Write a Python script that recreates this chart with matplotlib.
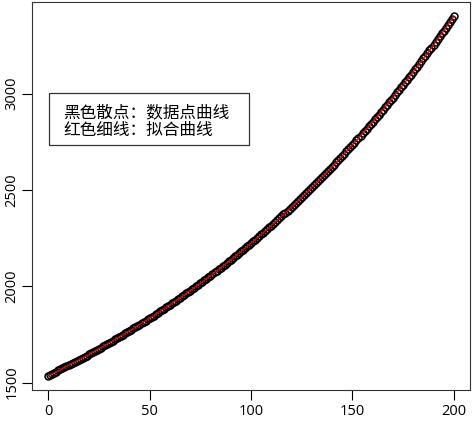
import numpy as np
import matplotlib
matplotlib.use("Agg")
import matplotlib.pyplot as plt
from matplotlib.patches import Rectangle

# ---- data ----
x_values = list(range(0, 201))
y_values = [
    1536.0, 1541.3, 1546.7, 1552.0, 1557.4, 1562.7, 1568.0, 1573.4, 1578.7, 1584.1,
    1589.4, 1595.0, 1600.7, 1606.3, 1612.0, 1617.6, 1623.2, 1628.9, 1634.5, 1640.2,
    1645.8, 1651.7, 1657.7, 1663.6, 1669.6, 1675.5, 1681.4, 1687.4, 1693.3, 1699.3,
    1705.2, 1711.5, 1717.8, 1724.0, 1730.3, 1736.6, 1742.9, 1749.2, 1755.4, 1761.7,
    1768.0, 1774.6, 1781.2, 1787.9, 1794.5, 1801.1, 1807.7, 1814.3, 1821.0, 1827.6,
    1834.2, 1841.2, 1848.2, 1855.1, 1862.1, 1869.1, 1876.1, 1883.1, 1890.0, 1897.0,
    1904.0, 1911.4, 1918.7, 1926.1, 1933.5, 1940.9, 1948.2, 1955.6, 1963.0, 1970.3,
    1977.7, 1985.5, 1993.3, 2001.0, 2008.8, 2016.6, 2024.4, 2032.2, 2039.9, 2047.7,
    2055.5, 2063.7, 2071.9, 2080.1, 2088.3, 2096.6, 2104.8, 2113.0, 2121.2, 2129.4,
    2137.6, 2146.3, 2154.9, 2163.6, 2172.2, 2180.9, 2189.5, 2198.2, 2206.8, 2215.5,
    2224.1, 2233.2, 2242.4, 2251.5, 2260.7, 2269.8, 2278.9, 2288.1, 2297.2, 2306.4,
    2315.5, 2325.1, 2334.8, 2344.4, 2354.1, 2363.7, 2373.3, 2383.0, 2392.6, 2402.3,
    2411.9, 2422.1, 2432.3, 2442.4, 2452.6, 2462.8, 2473.0, 2483.2, 2493.3, 2503.5,
    2513.7, 2524.4, 2535.2, 2545.9, 2556.6, 2567.4, 2578.1, 2588.8, 2599.5, 2610.3,
    2621.0, 2632.3, 2643.7, 2655.0, 2666.3, 2677.7, 2689.0, 2700.3, 2711.6, 2723.0,
    2734.3, 2746.3, 2758.2, 2770.2, 2782.1, 2794.1, 2806.0, 2818.0, 2829.9, 2841.9,
    2853.8, 2866.4, 2879.0, 2891.6, 2904.2, 2916.9, 2929.5, 2942.1, 2954.7, 2967.3,
    2979.9, 2993.2, 3006.5, 3019.8, 3033.1, 3046.4, 3059.7, 3073.0, 3086.3, 3099.6,
    3112.9, 3126.9, 3141.0, 3155.0, 3169.1, 3183.1, 3197.1, 3211.2, 3225.2, 3239.3,
    3253.3, 3268.1, 3282.9, 3297.8, 3312.6, 3327.4, 3342.2, 3357.0, 3371.9, 3386.7,
    3401.5,
]
x_ticks = [0, 50, 100, 150, 200]
y_ticks = [1500, 2000, 2500, 3000]
legend_lines = ["黑色散点：数据点曲线", "红色细线：拟合曲线"]

plt.rcParams['font.family'] = ['Open Sans', 'Noto Sans CJK SC', 'DejaVu Sans']

x = np.array(x_values, dtype=float)
y = np.array(y_values, dtype=float)

fig = plt.figure(figsize=(4.72, 4.21), dpi=100)
ax = fig.add_axes([32/472, 31/421, 438/472, 388/421])

ax.plot(x, y, linestyle='none', marker='o', markersize=5.0,
        markerfacecolor='none', markeredgecolor='black', markeredgewidth=1.1)

coef = np.polyfit(x, y, 3)
ax.plot(x, np.polyval(coef, x), color='#e00000', lw=1.0)

xr = x.max() - x.min()
yr = y.max() - y.min()
ax.set_xlim(x.min() - 0.04 * xr, x.max() + 0.04 * xr)
ax.set_ylim(y.min() - 0.04 * yr, y.max() + 0.04 * yr)

ax.set_xticks(x_ticks)
ax.set_yticks(y_ticks)
ax.tick_params(axis='both', direction='out', length=7, width=0.8, labelsize=10.5, colors='black')
ax.tick_params(axis='x', pad=3)
ax.tick_params(axis='y', pad=2)
for lab in ax.get_yticklabels():
    lab.set_rotation(90)
    lab.set_va('center')
for s in ax.spines.values():
    s.set_linewidth(0.8)
    s.set_color('#333333')

# legend-like text box
ax.add_patch(Rectangle((0.0388, 0.6314), 0.4566, 0.1341, transform=ax.transAxes,
                       fill=False, edgecolor='#333333', lw=0.9))
ax.text(0.0708, 0.714, legend_lines[0], transform=ax.transAxes, va='center', ha='left',
        fontsize=12, family=['Noto Sans CJK SC', 'DejaVu Sans'])
ax.text(0.0708, 0.669, legend_lines[1], transform=ax.transAxes, va='center', ha='left',
        fontsize=12, family=['Noto Sans CJK SC', 'DejaVu Sans'])

fig.savefig("out.png", dpi=100)
